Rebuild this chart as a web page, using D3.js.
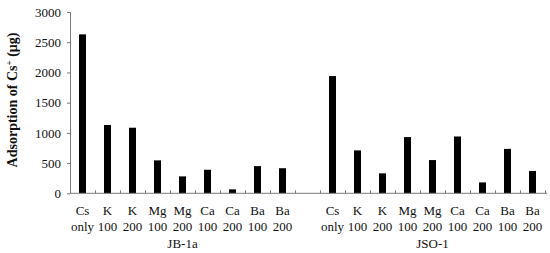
<!DOCTYPE html>
<html>
<head>
<meta charset="utf-8">
<script src="https://cdn.jsdelivr.net/npm/d3@7"></script>
<style>
  body { margin: 0; background: #fff; }
  svg { font-family: "Liberation Serif", "Times New Roman", serif; }
</style>
</head>
<body>
<div id="chart"></div>
<script>
// data
var groups = ['JB-1a', 'JSO-1'];
var ionNames = ['Cs', 'K', 'K', 'Mg', 'Mg', 'Ca', 'Ca', 'Ba', 'Ba'];
var ionDoses = ['only', '100', '200', '100', '200', '100', '200', '100', '200'];
var jb1aValues = [2630, 1130, 1085, 545, 280, 390, 65, 450, 415];
var jso1Values = [1940, 710, 330, 930, 550, 940, 180, 735, 370];
var yTicks = [0, 500, 1000, 1500, 2000, 2500, 3000];

var svgWidth = 550;
var svgHeight = 253;
var margin = { top: 12, right: 5, bottom: 60, left: 70 };
var chartWidth = 475;
var chartHeight = svgHeight - margin.top - margin.bottom + 0.3;

var svg = d3.select('#chart')
    .append('svg')
    .attr('width', svgWidth)
    .attr('height', svgHeight);

var chartGroup = svg.append('g')
    .attr('transform', `translate(${margin.left},${margin.top})`);

// build the 19 slots: 9 bars, one empty gap, 9 bars
var slots = [];
ionNames.forEach((n, i) => slots.push({ key: 'a' + i, name: n, dose: ionDoses[i], value: jb1aValues[i], group: groups[0] }));
slots.push({ key: 'gap', name: '', dose: '', value: null, group: null });
ionNames.forEach((n, i) => slots.push({ key: 'b' + i, name: n, dose: ionDoses[i], value: jso1Values[i], group: groups[1] }));

var xBand = d3.scaleBand()
    .domain(slots.map(d => d.key))
    .range([0, chartWidth])
    .paddingInner(0.72)
    .paddingOuter(0.36);

var step = xBand.step();

var yLinearScale = d3.scaleLinear()
    .domain([0, 3000])
    .range([chartHeight, 0]);

var axisColor = '#7a7a7a';

// y axis
var yAxis = chartGroup.append('g')
    .call(d3.axisLeft(yLinearScale).tickValues(yTicks).tickFormat(d3.format('d')).tickSize(3).tickPadding(6));
yAxis.select('.domain').attr('stroke', axisColor).attr('d', `M-3,0.5H0.5V${chartHeight}`);
yAxis.selectAll('.tick line').attr('stroke', axisColor);
yAxis.selectAll('.tick text')
    .attr('font-family', '"Liberation Serif", serif')
    .attr('font-size', '13px')
    .attr('fill', '#111');

// bars
chartGroup.selectAll('rect.bar')
    .data(slots.filter(d => d.value !== null))
    .enter()
    .append('rect')
    .attr('class', 'bar')
    .attr('x', d => xBand(d.key))
    .attr('width', xBand.bandwidth())
    .attr('y', d => yLinearScale(d.value))
    .attr('height', d => chartHeight - yLinearScale(d.value))
    .attr('fill', '#000');

// x axis line and boundary ticks
chartGroup.append('line')
    .attr('x1', 0)
    .attr('x2', chartWidth + 2)
    .attr('y1', chartHeight)
    .attr('y2', chartHeight)
    .attr('stroke', axisColor);

chartGroup.selectAll('line.xtick')
    .data(d3.range(1, slots.length + 1))
    .enter()
    .append('line')
    .attr('class', 'xtick')
    .attr('x1', i => Math.round(i * step) + 0.5)
    .attr('x2', i => Math.round(i * step) + 0.5)
    .attr('y1', chartHeight)
    .attr('y2', chartHeight - 3)
    .attr('stroke', axisColor);

// category labels (two lines)
var labels = chartGroup.selectAll('text.cat')
    .data(slots.filter(d => d.value !== null))
    .enter()
    .append('text')
    .attr('class', 'cat')
    .attr('text-anchor', 'middle')
    .attr('font-size', '13px')
    .attr('fill', '#111');

labels.append('tspan')
    .attr('x', d => xBand(d.key) + xBand.bandwidth() / 2)
    .attr('y', chartHeight + 22)
    .text(d => d.name);

labels.append('tspan')
    .attr('x', d => xBand(d.key) + xBand.bandwidth() / 2)
    .attr('y', chartHeight + 38)
    .text(d => d.dose);

// group labels
chartGroup.selectAll('text.grp')
    .data(groups)
    .enter()
    .append('text')
    .attr('class', 'grp')
    .attr('text-anchor', 'middle')
    .attr('font-size', '13px')
    .attr('fill', '#111')
    .attr('x', (g, i) => (i * 10 + 4.5) * step)
    .attr('y', chartHeight + 55)
    .text(g => g);

// y axis title
var yTitle = svg.append('text')
    .attr('transform', `translate(17,${margin.top + 88}) rotate(-90)`)
    .attr('text-anchor', 'middle')
    .attr('font-size', '14px')
    .attr('font-weight', 'bold')
    .attr('fill', '#111');
yTitle.append('tspan').text('Adsorption of Cs');
yTitle.append('tspan').attr('baseline-shift', 'super').attr('font-size', '9px').text('+');
yTitle.append('tspan').text(' (μg)');
</script>
</body>
</html>
